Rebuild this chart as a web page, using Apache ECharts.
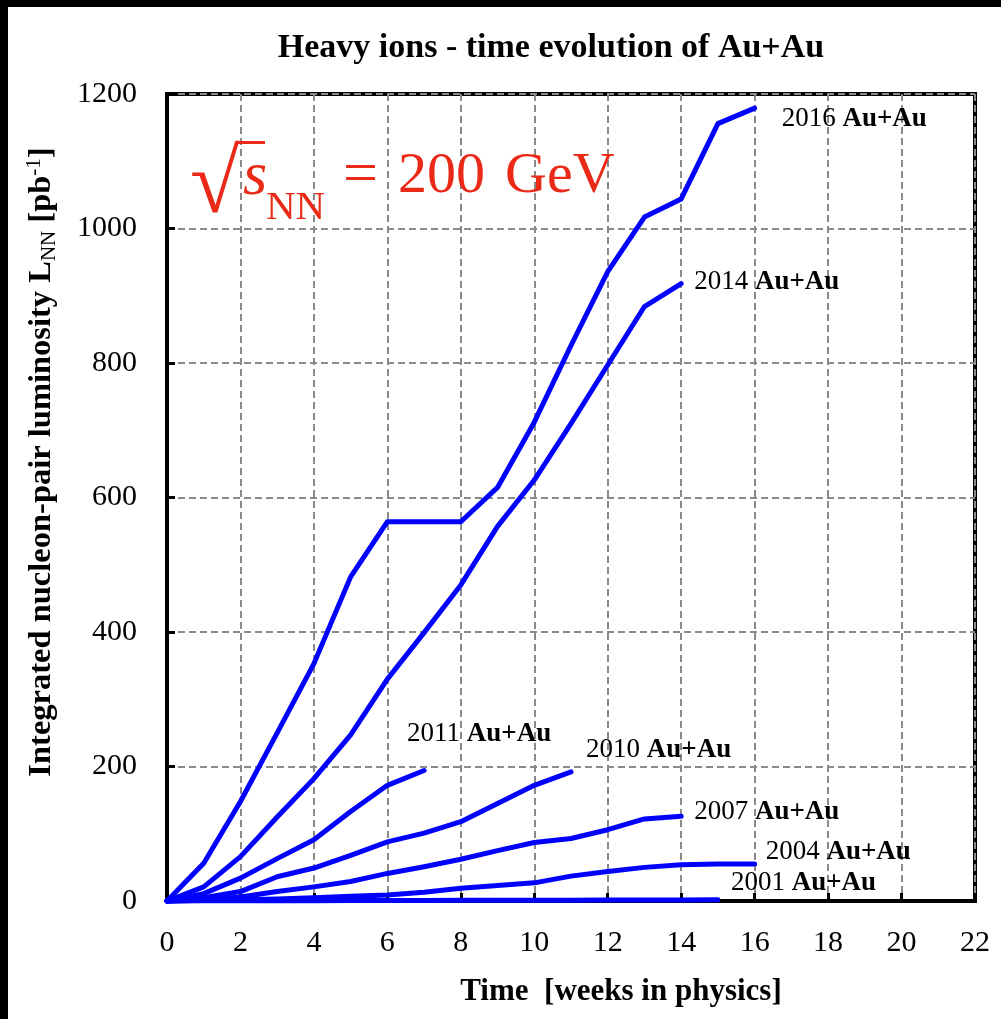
<!DOCTYPE html>
<html>
<head>
<meta charset="utf-8">
<script src="https://cdn.jsdelivr.net/npm/echarts@6/dist/echarts.min.js"></script>
<style>
html,body{margin:0;padding:0;background:#fff;}
#c{width:1001px;height:1019px;}
</style>
</head>
<body>
<div id="c"></div>
<script>
// ---- data ----
const weeks = [0,1,2,3,4,5,6,7,8,9,10,11,12,13,14,15,16];
const xTicks = [0,2,4,6,8,10,12,14,16,18,20,22];
const yTicks = [0,200,400,600,800,1000,1200];
const runs = ['2016','2014','2011','2010','2007','2004','2001'];
const lum2016 = [0,56,148,250,353,482,564,564,564,615,712,826,936,1017,1044,1156,1179];
const lum2014 = [0,21,66,125,182,247,330,399,470,557,626,710,797,884,918];
const lum2011 = [0,11,34,63,91,133,172,194];
const lum2010 = [0,5,14,36,49,68,88,101,118,145,172,192];
const lum2007 = [0,2,6,14,21,29,41,51,62,75,87,93,106,122,126];
const lum2004 = [0,1,2,3,5,7,9,13,19,23,27,37,44,50,54,55,55];
const lum2001 = [0,0.2,0.3,0.4,0.5,0.6,0.8,0.9,1.0,1.1,1.2,1.3,1.4,1.5,1.6,1.7];
const labelOffsets = {
  '2016':[27,11], '2014':[13,-2], '2011':[-17,-37], '2010':[15,-22],
  '2007':[13,-4], '2004':[11,-12], '2001':[13,-17]
};
const lumByRun = {'2016':lum2016,'2014':lum2014,'2011':lum2011,'2010':lum2010,'2007':lum2007,'2004':lum2004,'2001':lum2001};

const FONT = "'Liberation Serif','Times New Roman',serif";
const BLUE = '#0000ff';
const RED = '#ea2a16';

const series = runs.map(r => ({
  name: r,
  type: 'line',
  data: lumByRun[r].map((v,i) => [weeks[i], v]),
  showSymbol: false,
  symbol: 'none',
  clip: false,
  lineStyle: {color: BLUE, width: 5, cap: 'round', join: 'round'},
  itemStyle: {color: BLUE},
  z: 5,
  endLabel: {
    show: true,
    formatter: '{r|' + r + ' }{b|Au+Au}',
    align: 'left',
    verticalAlign: 'middle',
    distance: 0,
    offset: labelOffsets[r],
    rich: {
      r: {fontFamily: FONT, fontSize: 27, color: '#000'},
      b: {fontFamily: FONT, fontSize: 27, fontWeight: 'bold', color: '#000'}
    }
  }
}));

const chart = echarts.init(document.getElementById('c'), null, {renderer: 'canvas'});
chart.setOption({
  animation: false,
  backgroundColor: '#fff',
  grid: {left: 167, right: 26, top: 94, bottom: 118, show: true, borderColor: '#000', borderWidth: 4, backgroundColor: 'transparent'},
  xAxis: {
    type: 'value', min: 0, max: 22, interval: 2,
    axisLine: {show: true, onZero: false, lineStyle: {color: '#000', width: 4}},
    axisTick: {show: true, inside: true, length: 8, lineStyle: {color: '#000', width: 3}},
    axisLabel: {fontFamily: FONT, fontSize: 30, color: '#000', margin: 27,
      formatter: v => xTicks.indexOf(v) >= 0 ? String(v) : ''},
    splitLine: {show: true, lineStyle: {color: '#8a8a8a', width: 2, type: [7,4]}}
  },
  yAxis: {
    type: 'value', min: 0, max: 1200, interval: 200,
    axisLine: {show: true, onZero: false, lineStyle: {color: '#000', width: 4}},
    axisTick: {show: true, inside: true, length: 8, lineStyle: {color: '#000', width: 3}},
    axisLabel: {fontFamily: FONT, fontSize: 30, color: '#000', margin: 30,
      formatter: v => yTicks.indexOf(v) >= 0 ? String(v) : ''},
    splitLine: {show: true, lineStyle: {color: '#8a8a8a', width: 2, type: [7,4]}}
  },
  series: series,
  graphic: [
    // black frame bands at top and left of the picture
    {type: 'rect', shape: {x: 0, y: 0, width: 1001, height: 7}, style: {fill: '#000'}, z: 100},
    {type: 'rect', shape: {x: 0, y: 0, width: 8, height: 1019}, style: {fill: '#000'}, z: 100},
    // title
    {type: 'text', x: 551, y: 48, z: 100, style: {
      text: 'Heavy ions - time evolution of Au+Au', font: "bold 34px 'Liberation Serif'",
      fill: '#000', textAlign: 'center', textVerticalAlign: 'middle'}},
    // x axis name
    {type: 'text', x: 621, y: 992, z: 100, style: {
      text: 'Time  [weeks in physics]', font: "bold 31px 'Liberation Serif'",
      fill: '#000', textAlign: 'center', textVerticalAlign: 'middle'}},
    // y axis name (rotated)
    {type: 'text', x: 42, y: 462, rotation: Math.PI / 2, z: 100, style: {
      text: '{b|Integrated nucleon-pair luminosity L}{s|NN}{b| [pb}{p|-1}{b|]}',
      textAlign: 'center', textVerticalAlign: 'middle',
      rich: {
        b: {fontFamily: FONT, fontWeight: 'bold', fontSize: 32.5, lineHeight: 36, verticalAlign: 'middle', fill: '#000'},
        s: {fontFamily: FONT, fontWeight: 'normal', fontSize: 21, lineHeight: 21, verticalAlign: 'bottom', fill: '#000'},
        p: {fontFamily: FONT, fontWeight: 'normal', fontSize: 21, lineHeight: 21, verticalAlign: 'top', fill: '#000'}
      }}},
    // red sqrt(s_NN) = 200 GeV annotation
    {type: 'text', x: 190, y: 188, z: 100, style: {
      text: '\u221A', font: "90px 'Liberation Serif'", fill: RED, textAlign: 'left', textVerticalAlign: 'middle'}},
    {type: 'rect', z: 100, shape: {x: 237, y: 141, width: 28, height: 3}, style: {fill: RED}},
    {type: 'text', x: 243, y: 178, z: 100, style: {
      text: 's', font: "italic 62px 'Liberation Serif'", fill: RED, textAlign: 'left', textVerticalAlign: 'middle'}},
    {type: 'text', x: 266, y: 208, z: 100, style: {
      text: 'NN', font: "41px 'Liberation Serif'", fill: RED, textAlign: 'left', textVerticalAlign: 'middle'}},
    {type: 'text', x: 343, y: 177, z: 100, style: {
      text: '=', font: "62px 'Liberation Serif'", fill: RED, textAlign: 'left', textVerticalAlign: 'middle'}},
    {type: 'text', x: 398, y: 177, z: 100, style: {
      text: '200', font: "58px 'Liberation Serif'", fill: RED, textAlign: 'left', textVerticalAlign: 'middle'}},
    {type: 'text', x: 505, y: 177, z: 100, style: {
      text: 'GeV', font: "58px 'Liberation Serif'", fill: RED, textAlign: 'left', textVerticalAlign: 'middle'}}
  ]
});
</script>
</body>
</html>
